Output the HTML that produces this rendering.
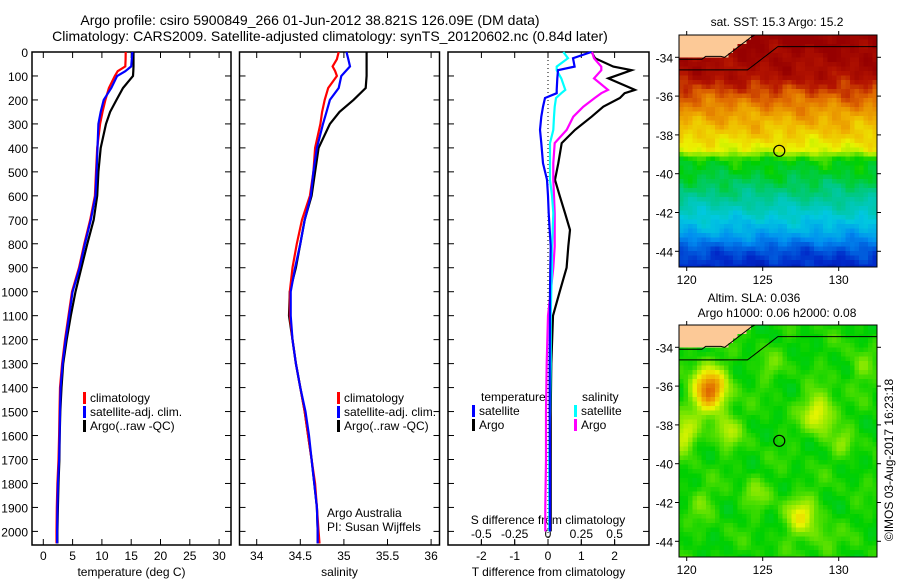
<!DOCTYPE html>
<html><head><meta charset="utf-8"><style>
body{margin:0;background:#fff;}
svg text{font-family:"Liberation Sans",sans-serif;fill:#000;}
</style></head><body>
<svg id="fig" width="900" height="580" xmlns="http://www.w3.org/2000/svg">
<text x="310" y="25" font-size="14" text-anchor="middle">Argo profile: csiro 5900849_266 01-Jun-2012 38.821S 126.09E (DM data)</text>
<text x="330" y="41" font-size="14" text-anchor="middle">Climatology: CARS2009. Satellite-adjusted climatology: synTS_20120602.nc (0.84d later)</text>
<g id="p1"></g>
<g id="p2"></g>
<g id="p3"></g>
<g id="m1"></g>
<g id="m2"></g>
<text x="777" y="26" font-size="12" text-anchor="middle">sat. SST: 15.3 Argo: 15.2</text>
<text x="754" y="302" font-size="12" text-anchor="middle">Altim. SLA: 0.036</text>
<text x="777" y="317" font-size="12" text-anchor="middle">Argo h1000: 0.06 h2000: 0.08</text>
<text x="0" y="0" font-size="12" text-anchor="middle" transform="translate(893,460) rotate(-90)">©IMOS 03-Aug-2017 16:23:18</text>
</svg>
<script>
// ---- profile data ----
const depths=[0,30,60,80,100,150,200,250,300,400,500,600,700,800,900,1000,1100,1200,1300,1400,1500,1600,1700,1800,1900,2000,2050];
const tempClim=[14.06,14.05,14.0,12.7,12.2,11.2,10.6,10.1,9.7,9.2,9.0,8.8,8.0,7.0,6.1,4.9,4.3,3.7,3.2,2.85,2.77,2.7,2.6,2.4,2.3,2.25,2.25];
const tempSat=[15.2,15.1,15.0,14.0,12.6,11.6,10.3,9.8,9.4,9.25,9.1,8.9,8.1,7.1,6.2,5.0,4.4,3.8,3.3,2.95,2.85,2.78,2.7,2.5,2.4,2.35,2.35];
const tempArgo=[15.4,15.4,15.4,15.35,15.3,13.6,12.5,11.4,10.7,9.8,9.4,9.2,8.6,7.5,6.5,5.5,4.7,4.0,3.4,3.1,2.9,2.8,2.75,2.6,2.5,2.4,2.4];
const salClim=[34.94,34.92,34.87,34.9,34.92,34.82,34.78,34.75,34.73,34.67,34.65,34.61,34.52,34.46,34.41,34.38,34.38,34.41,34.45,34.5,34.55,34.59,34.63,34.67,34.69,34.71,34.72];
const salSat=[35.03,35.05,35.07,35.02,34.97,34.94,34.84,34.8,34.76,34.69,34.65,34.62,34.55,34.5,34.44,34.39,34.39,34.41,34.45,34.5,34.56,34.6,34.63,34.66,34.69,34.7,34.7];
const salArgo=[35.26,35.26,35.26,35.26,35.26,35.25,35.11,34.95,34.84,34.71,34.67,34.63,34.55,34.5,34.45,34.38,34.37,34.41,34.45,34.5,34.55,34.59,34.63,34.66,34.69,34.7,34.7];
const diffDepths=[0,26,61,76,110,158,172,192,228,270,325,380,464,533,600,672,742,811,900,1000,1100,1300,1500,1700,1900,2000];
const dTsat=[1.3,0.75,0.8,0.3,0.28,0.26,0.26,-0.09,-0.15,-0.2,-0.24,-0.2,-0.15,-0.03,0.0,0.02,0.05,0.08,0.07,0.06,0.06,0.05,0.05,0.06,0.06,0.06];
const dTargo=[1.31,1.41,1.96,2.51,1.81,2.61,2.3,2.16,1.66,1.31,0.81,0.41,0.31,0.21,0.35,0.51,0.66,0.61,0.56,0.35,0.15,0.1,0.08,0.08,0.08,0.08];
const dSsat=[0.115,0.15,0.065,0.065,0.1,0.13,0.1,0.06,0.05,0.045,0.04,0.015,0.015,0.015,0.03,0.04,0.035,0.03,0.03,0.025,0.02,0.02,0.015,0.01,0.01,0.01];
const dSargo=[0.33,0.345,0.4,0.4,0.345,0.45,0.4,0.35,0.265,0.19,0.14,0.05,0.04,0.04,0.045,0.05,0.05,0.05,0.04,0.02,0.0,-0.01,-0.015,-0.015,-0.02,-0.02];
const depthTicks=[0,100,200,300,400,500,600,700,800,900,1000,1100,1200,1300,1400,1500,1600,1700,1800,1900,2000];
const tempTicks=[0,5,10,15,20,25,30];
const salTicks=[34,34.5,35,35.5,36];
const tDiffTicks=[-2,-1,0,1,2];
const sDiffTicks=[-0.5,-0.25,0,0.25,0.5];
const sDiffLabels=["-0.5","-0.25","0","0.25","0.5"];
const lonTicks=[120,125,130];
const latTicks=[-34,-36,-38,-40,-42,-44];

const NS='http://www.w3.org/2000/svg';
function mk(parent,tag,attrs,txt){const e=document.createElementNS(NS,tag);for(const k in attrs)e.setAttribute(k,attrs[k]);if(txt!==undefined)e.textContent=txt;parent.appendChild(e);return e;}
const TOP=52,BOT=545;
const yD=d=>52+d*0.2397;

function panel(g,x0,x1,xs,ticks,labels,xlabel){
  const r=mk(g,'rect',{x:x0,y:TOP,width:x1-x0,height:BOT-TOP,fill:'none',stroke:'#000','stroke-width':1.5});
  
  depthTicks.forEach(d=>{const y=yD(d);
    mk(g,'line',{x1:x0,x2:x0+6,y1:y,y2:y,stroke:'#000'});mk(g,'line',{x1:x1-6,x2:x1,y1:y,y2:y,stroke:'#000'});});
  ticks.forEach((t,i)=>{const x=xs(t);
    mk(g,'line',{x1:x,x2:x,y1:BOT,y2:BOT-6,stroke:'#000'});mk(g,'line',{x1:x,x2:x,y1:TOP,y2:TOP+6,stroke:'#000'});
    if(labels){const tx=mk(g,'text',{x:x,y:560,'font-size':12,'text-anchor':'middle'},labels[i]);
      }});
  if(xlabel){const t=mk(g,'text',{x:(x0+x1)/2,y:576,'font-size':12,'text-anchor':'middle'},xlabel);
    }
}
function line(g,xs,vals,ds,color,name){
  const pts=vals.map((v,i)=>xs(v).toFixed(1)+','+yD(ds[i]).toFixed(1)).join(' ');
  const p=mk(g,'polyline',{points:pts,fill:'none',stroke:color,'stroke-width':2.2});
  
}
function legend(g,x,y,items){
  items.forEach((it,i)=>{
    const b=mk(g,'rect',{x:x,y:y+i*14-10,width:3,height:12,fill:it[0]});
    
    const t=mk(g,'text',{x:x+7,y:y+i*14,'font-size':12},it[1]);
    
  });
}
// panel 1
const p1=document.getElementById('p1');
const xT=t=>43.3+t*5.86;
panel(p1,32,231,xT,tempTicks,tempTicks.map(String),'temperature (deg C)');
depthTicks.forEach(d=>{const t=mk(p1,'text',{x:28,y:yD(d)+5,'font-size':12,'text-anchor':'end'},String(d));
  });
line(p1,xT,tempArgo,depths,'#000','temp-argo-line');
line(p1,xT,tempClim,depths,'#f00','temp-climatology-line');
line(p1,xT,tempSat,depths,'#00f','temp-satellite-line');
legend(p1,83,402,[['#f00','climatology'],['#00f','satellite-adj. clim.'],['#000','Argo(..raw -QC)']]);
// panel 2
const p2=document.getElementById('p2');
const xS=s=>256.7+(s-34)*87.2;
panel(p2,239.5,439.5,xS,salTicks,salTicks.map(String),'salinity');
line(p2,xS,salArgo,depths,'#000','sal-argo-line');
line(p2,xS,salClim,depths,'#f00','sal-climatology-line');
line(p2,xS,salSat,depths,'#00f','sal-satellite-line');
legend(p2,337,402,[['#f00','climatology'],['#00f','satellite-adj. clim.'],['#000','Argo(..raw -QC)']]);
let t1=mk(p2,'text',{x:327,y:517,'font-size':12},'Argo Australia');
let t2=mk(p2,'text',{x:327,y:531,'font-size':12},'PI: Susan Wijffels');
// panel 3
const p3=document.getElementById('p3');
const xdT=t=>548+t*33.3;
const xdS=s=>548+s*133.3;
panel(p3,448,649,xdT,tDiffTicks,tDiffTicks.map(String),'T difference from climatology');
sDiffTicks.forEach((s,i)=>{const x=xdS(s);mk(p3,'line',{x1:x,x2:x,y1:BOT,y2:BOT-5,stroke:'#000'});
  const t=mk(p3,'text',{x:x,y:538,'font-size':12,'text-anchor':'middle'},sDiffLabels[i]);
  });
let st=mk(p3,'text',{x:548,y:524,'font-size':12,'text-anchor':'middle'},'S difference from climatology');

mk(p3,'line',{x1:548,x2:548,y1:TOP,y2:BOT,stroke:'#000','stroke-dasharray':'1,3'});
line(p3,xdT,dTargo,diffDepths,'#000','t-diff-argo-line');
line(p3,xdS,dSargo,diffDepths,'#f0f','s-diff-argo-line');
line(p3,xdS,dSsat,diffDepths,'#0ff','s-diff-satellite-line');
line(p3,xdT,dTsat,diffDepths,'#00f','t-diff-satellite-line');
mk(p3,'rect',{x:469,y:388,width:76,height:14,fill:'#fff'});
let lt2=mk(p3,'text',{x:481,y:401,'font-size':12},'temperature');
legend(p3,472,415,[['#00f','satellite'],['#000','Argo']]);
mk(p3,'rect',{x:572,y:388,width:56,height:40,fill:'#fff'});
let ls=mk(p3,'text',{x:582,y:401,'font-size':12},'salinity');
legend(p3,574,415,[['#0ff','satellite'],['#f0f','Argo']]);

// ---- maps ----
const stops=[[0,[0,0,128]],[0.12,[0,40,200]],[0.25,[0,140,240]],[0.35,[0,200,224]],[0.45,[0,200,140]],[0.55,[0,208,0]],[0.62,[120,230,0]],[0.7,[235,245,0]],[0.78,[240,180,0]],[0.86,[225,110,0]],[0.93,[180,20,0]],[1,[150,0,0]]];
function cmap(v){v=Math.max(0,Math.min(1,v));for(let i=1;i<stops.length;i++){if(v<=stops[i][0]){const a=stops[i-1],b=stops[i],f=(v-a[0])/(b[0]-a[0]);
  return 'rgb('+a[1].map((c,k)=>Math.round(c+(b[1][k]-c)*f)).join(',')+')';}}return 'rgb(150,0,0)';}
function nz(x,y){return Math.sin(x*1.7+y*0.9)*Math.sin(y*2.3-x*0.6)*0.5+Math.sin(x*3.1+y*4.2)*0.3+Math.sin(x*5.3-y*3.7)*0.2;}
const sstLat=[-33,-35,-36,-37,-38,-38.8,-39.3,-40,-41,-42,-43,-44,-45];
const sstVal=[1,0.95,0.87,0.8,0.75,0.69,0.55,0.52,0.46,0.38,0.3,0.17,0.1];
function interp(xa,ya,x){for(let i=1;i<xa.length;i++){if(x>=xa[i]){const f=(x-xa[i-1])/(xa[i]-xa[i-1]);return ya[i-1]+(ya[i]-ya[i-1])*f;}}return ya[ya.length-1];}
const blobs=[[121.5,-36.2,0.3,1.1],[128.7,-37.4,0.15,1.0],[127.5,-42.7,0.14,1.0],[119.8,-38.5,0.13,0.9],[122.7,-38.3,0.1,0.8],[130.3,-39,0.06,0.7],[124.5,-41.5,0.06,0.8],[125.5,-35,0.04,0.8],[131.5,-35,0.06,0.8],[129,-44,0.05,0.8],[121,-42,0.05,0.8]];
function coastLat(lon){return lon<122.5?-34.1+(lon>121?0.15:0):-34.0+(lon-122.5)*0.6;}
function shelfLat(lon){return lon<124?-34.65:(lon<126?-34.65+(lon-124)*0.6:-33.45);}
function drawMap(g,y0,kind){
  const X0=679,X1=877,Y1=y0+232;
  const lx=l=>686.7+(l-120)*15.2, ly=l=>y0+22.3+(-34-l)*19.4;
  const cw=4.5,ch=4.5;
  for(let py=y0;py<Y1;py+=ch){for(let px=X0;px<X1;px+=cw){
    const lon=120+(px+cw/2-686.7)/15.2, lat=-34-(py+ch/2-y0-22.3)/19.4;
    let col;
    if(lat>coastLat(lon)) col='#fcc997';
    else if(kind==='sst'){col=cmap(interp(sstLat,sstVal,lat)+0.05*nz(lon,lat));}
    else{let v=0.56+0.04*nz(lon*0.8,lat*0.8);blobs.forEach(b=>{const d2=((lon-b[0])**2+(lat-b[1])**2)/(b[3]*b[3]);v+=b[2]*Math.exp(-d2);});col=cmap(v);}
    mk(g,'rect',{x:px,y:py,width:Math.min(cw,X1-px)+0.3,height:Math.min(ch,Y1-py)+0.3,fill:col});
  }}
  let cp=[],sp=[];for(let l=119.5;l<=132.5;l+=0.25){cp.push(lx(l)+','+ly(Math.min(coastLat(l),-32.85)));sp.push(lx(l)+','+ly(shelfLat(l)));}
  mk(g,'polyline',{points:cp.join(' '),fill:'none',stroke:'#000','stroke-width':1});
  const s=mk(g,'polyline',{points:sp.join(' '),fill:'none',stroke:'#000','stroke-width':1});
  
  const fr=mk(g,'rect',{x:X0,y:y0,width:X1-X0,height:Y1-y0,fill:'none',stroke:'#000','stroke-width':1});
  
  const c=mk(g,'circle',{cx:lx(126.09),cy:ly(-38.821),r:5.5,fill:'none',stroke:'#000','stroke-width':1.2});
  
  lonTicks.forEach(l=>{const x=lx(l);mk(g,'line',{x1:x,x2:x,y1:y0,y2:y0-4,stroke:'#000'});mk(g,'line',{x1:x,x2:x,y1:Y1,y2:Y1+4,stroke:'#000'});
    const t=mk(g,'text',{x:x,y:Y1+17,'font-size':12,'text-anchor':'middle'},String(l));});
  latTicks.forEach(l=>{const y=ly(l);mk(g,'line',{x1:X0,x2:X0-4,y1:y,y2:y,stroke:'#000'});mk(g,'line',{x1:X1,x2:X1+4,y1:y,y2:y,stroke:'#000'});
    const t=mk(g,'text',{x:X0-6,y:y+5,'font-size':12,'text-anchor':'end'},String(l));});
}
drawMap(document.getElementById('m1'),35,'sst');
drawMap(document.getElementById('m2'),325,'sla');
</script>
</body></html>
